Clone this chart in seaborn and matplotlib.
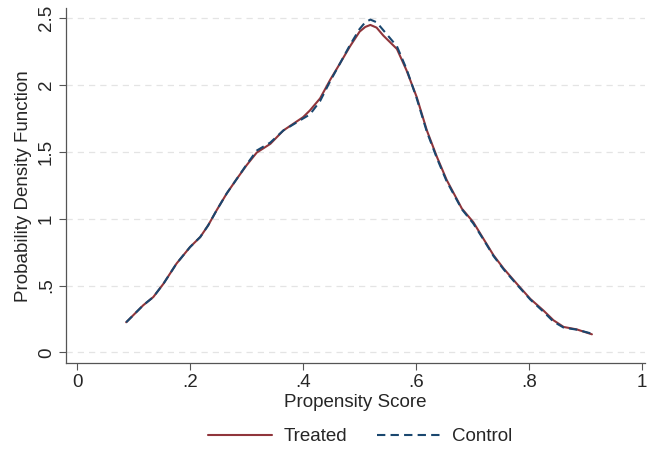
import numpy as np
import pandas as pd
import matplotlib.pyplot as plt
import seaborn as sns

# ── Data ──────────────────────────────────────────────────────────
score = [0.087, 0.117, 0.135, 0.153, 0.176, 0.200, 0.218, 0.232, 0.247, 0.265,
         0.283, 0.300, 0.318, 0.342, 0.365, 0.400, 0.412, 0.430, 0.448, 0.465,
         0.483, 0.500, 0.510, 0.519, 0.530, 0.542, 0.566, 0.583, 0.601, 0.619,
         0.637, 0.654, 0.681, 0.701, 0.719, 0.737, 0.755, 0.778, 0.802, 0.825,
         0.843, 0.861, 0.884, 0.911]
treated = [0.225, 0.352, 0.414, 0.514, 0.664, 0.788, 0.863, 0.950, 1.063, 1.190,
           1.300, 1.400, 1.495, 1.560, 1.660, 1.760, 1.810, 1.900, 2.040, 2.160,
           2.290, 2.400, 2.435, 2.450, 2.430, 2.370, 2.270, 2.110, 1.910, 1.660,
           1.460, 1.290, 1.075, 0.975, 0.850, 0.726, 0.626, 0.514, 0.400, 0.314,
           0.240, 0.190, 0.172, 0.135]
control = [0.225, 0.352, 0.414, 0.514, 0.664, 0.788, 0.863, 0.950, 1.063, 1.190,
           1.300, 1.405, 1.510, 1.570, 1.660, 1.750, 1.780, 1.880, 2.030, 2.160,
           2.300, 2.420, 2.470, 2.490, 2.470, 2.410, 2.290, 2.120, 1.900, 1.650,
           1.450, 1.280, 1.070, 0.965, 0.845, 0.720, 0.620, 0.508, 0.395, 0.305,
           0.230, 0.185, 0.170, 0.140]
xticks = [0, 0.2, 0.4, 0.6, 0.8, 1]
xticklabels = ['0', '.2', '.4', '.6', '.8', '1']
yticks = [0, 0.5, 1, 1.5, 2, 2.5]
yticklabels = ['0', '.5', '1', '1.5', '2', '2.5']

MAROON = '#90353b'
NAVY = '#1a476f'

sns.set_style('white')
plt.rcParams['font.family'] = ['Liberation Sans', 'DejaVu Sans']
FS = 13.5

fig = plt.figure(figsize=(6.47, 4.57), dpi=100)
ax = fig.add_axes([0.102, 0.205, 0.895, 0.777])

sns.lineplot(x=score, y=treated, ax=ax, color=MAROON, linewidth=1.5, label='Treated')
sns.lineplot(x=score, y=control, ax=ax, color=NAVY, linewidth=1.5,
             linestyle=(0, (4, 2.5)), label='Control')

ax.set_xlim(-0.0195, 1.005)
ax.set_ylim(-0.082, 2.575)
ax.set_xticks(xticks)
ax.set_xticklabels(xticklabels)
ax.set_yticks(yticks)
ax.set_yticklabels(yticklabels, rotation=90, va='center')
ax.tick_params(axis='both', labelsize=FS, length=5, width=0.8, color='#555555',
               direction='out', bottom=True, left=True, pad=3)
ax.grid(axis='y', color='#e4e4e4', linestyle=(0, (5, 4)), linewidth=0.9)
ax.grid(axis='x', visible=False)
for side in ['top', 'right']:
    ax.spines[side].set_visible(False)
for side in ['left', 'bottom']:
    ax.spines[side].set_color('#555555')
    ax.spines[side].set_linewidth(0.9)

ax.set_xlabel('Propensity Score', fontsize=FS, labelpad=2)
ax.set_ylabel('Probability Density Function', fontsize=FS, labelpad=4)

handles, labels = ax.get_legend_handles_labels()
ax.get_legend().remove()
fig.legend(handles, labels, loc='center', bbox_to_anchor=(0.557, 0.044), ncol=2,
           frameon=False, fontsize=FS, handlelength=3.4, columnspacing=1.6,
           handletextpad=0.6)

fig.savefig('out.png', dpi=100)
